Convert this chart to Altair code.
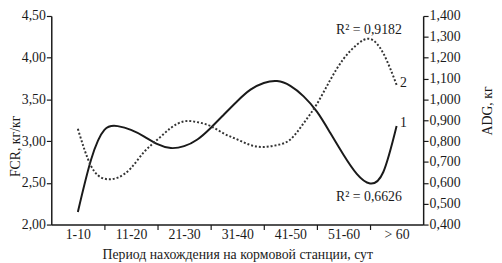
import altair as alt
import pandas as pd

categories = ["1-10", "11-20", "21-30", "31-40", "41-50", "51-60", "> 60"]

# sample positions along the x axis (category index)
pos = [1.0, 1.25, 1.5, 1.75, 2.0, 2.25, 2.5, 2.75, 3.0, 3.25, 3.5, 3.75,
       4.0, 4.25, 4.5, 4.75, 5.0, 5.25, 5.5, 5.75, 6.0, 6.25, 6.5, 6.75, 7.0]
# curve 1 (solid) - FCR, kg/kg (left axis)
fcr = [2.15, 2.78, 3.135, 3.18, 3.135, 3.055, 2.963, 2.917, 2.94, 3.02, 3.158, 3.319,
       3.479, 3.617, 3.697, 3.72, 3.663, 3.537, 3.353, 3.10, 2.837, 2.608, 2.493, 2.63, 3.181]
# curve 2 (dotted) - ADG, kg (right axis)
adg = [0.859, 0.680, 0.620, 0.625, 0.671, 0.749, 0.808, 0.863, 0.895, 0.891, 0.872, 0.836,
       0.808, 0.781, 0.772, 0.781, 0.808, 0.886, 0.978, 1.093, 1.194, 1.262, 1.290, 1.221, 1.070]

fcr_ticks = [2.0, 2.5, 3.0, 3.5, 4.0, 4.5]
adg_ticks = [0.4, 0.5, 0.6, 0.7, 0.8, 0.9, 1.0, 1.1, 1.2, 1.3, 1.4]
x_ticks = [1, 1.5, 2, 2.5, 3, 3.5, 4, 4.5, 5, 5.5, 6, 6.5, 7]

ann_text = ["R\u00b2 = 0,9182", "R\u00b2 = 0,6626", "2", "1"]
ann_x = [6.48, 6.48, 7.13, 7.13]
ann_y = [4.33, 2.33, 3.70, 3.22]

df = pd.DataFrame({"pos": pos, "fcr": fcr, "adg": adg})
ann = pd.DataFrame({"t": ann_text, "x": ann_x, "y": ann_y})

FONT = "Liberation Serif"
cat_js = "[" + ",".join("'" + c + "'" for c in categories) + "]"

xscale = alt.Scale(domain=[0.5, 7.5], nice=False, zero=False)
yl_scale = alt.Scale(domain=[2.0, 4.5], nice=False, zero=False)
yr_scale = alt.Scale(domain=[0.4, 1.4], nice=False, zero=False)

xaxis = alt.Axis(
    values=x_ticks,
    labelExpr="datum.value % 1 == 0 ? " + cat_js + "[datum.value - 1] : ''",
    tickOpacity={"condition": {"test": "datum.value % 1 == 0", "value": 0}, "value": 1},
    title="Период нахождения на кормовой станции, сут",
    labelOverlap=False, labelFlush=False,
    labelPadding=-2, labelBaseline="top",
    titleY=34, titleBaseline="alphabetic",
)

left_axis = alt.Axis(
    values=fcr_ticks,
    labelExpr="replace(format(datum.value, '.2f'), '.', ',')",
    title="FCR, кг/кг", titleX=-36, titleY=132, titleAngle=270,
    titleBaseline="middle", titleAlign="center",
    labelOverlap=False, labelFlush=False, labelPadding=1,
)
right_axis = alt.Axis(
    values=adg_ticks, orient="right",
    labelExpr="replace(format(datum.value, '.3f'), '.', ',')",
    title="ADG, кг", titleX=65, titleY=96, titleAngle=270,
    titleBaseline="middle", titleAlign="center",
    labelOverlap=False, labelFlush=False, labelPadding=1,
)

solid = alt.Chart(df).mark_line(interpolate="natural", color="#1a1a1a", strokeWidth=2).encode(
    x=alt.X("pos:Q", scale=xscale, axis=xaxis),
    y=alt.Y("fcr:Q", scale=yl_scale, axis=left_axis),
)
texts = alt.Chart(ann).mark_text(font=FONT, fontSize=14, color="#1a1a1a", align="center", baseline="middle").encode(
    x=alt.X("x:Q", scale=xscale, axis=xaxis),
    y=alt.Y("y:Q", scale=yl_scale, axis=left_axis),
    text="t:N",
)
dotted = alt.Chart(df).mark_line(interpolate="natural", color="#333333", strokeWidth=2,
                                 strokeDash=[2, 2]).encode(
    x=alt.X("pos:Q", scale=xscale, axis=xaxis),
    y=alt.Y("adg:Q", scale=yr_scale, axis=right_axis),
)

chart = alt.layer(alt.layer(solid, texts), dotted).resolve_scale(y="independent").properties(
    width=378, height=212,
    autosize=alt.AutoSizeParams(type="none"),
    padding={"left": 44, "top": 6, "right": 72, "bottom": 41},
    background="white",
).configure_axis(
    grid=False, labelFont=FONT, titleFont=FONT, labelFontSize=14, titleFontSize=14,
    labelColor="#1a1a1a", titleColor="#1a1a1a", titleFontWeight="normal",
    domainColor="#1a1a1a", domainWidth=1.5, tickColor="#1a1a1a", tickWidth=1.2, tickSize=5,
).configure_view(stroke=None)

chart.save("out.html", embed_options={"renderer": "svg", "actions": False})
